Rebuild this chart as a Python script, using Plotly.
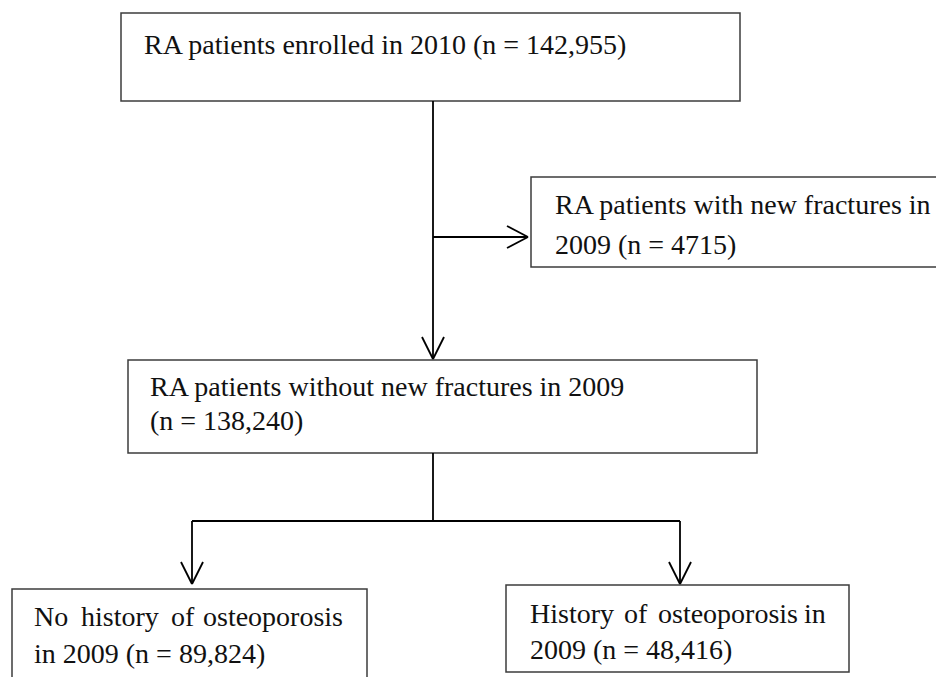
import plotly.graph_objects as go

# ---- data (flow counts) ----
enrolled_year = 2010
baseline_year = 2009
count_labels = ["142,955", "4715", "138,240", "89,824", "48,416"]
node_names = ["enrolled", "fracture", "no_fracture", "no_osteo", "osteo"]

# ---- text lines per box ----
box_lines = {
    "enrolled": [f"RA patients enrolled in {enrolled_year} (n = {count_labels[0]})"],
    "fracture": ["RA patients with new fractures in", f"{baseline_year} (n = {count_labels[1]})"],
    "no_fracture": [f"RA patients without new fractures in {baseline_year}", f"(n = {count_labels[2]})"],
}
no_osteo_words = ["No", "history", "of", "osteoporosis"]
no_osteo_line2 = f"in {baseline_year} (n = {count_labels[3]})"
osteo_words = ["History", "of", "osteoporosis", "in"]
osteo_line2 = f"{baseline_year} (n = {count_labels[4]})"

# ---- layout geometry (pixel space) ----
W, H = 936, 677
boxes = {
    "enrolled": (121, 13, 740, 101),
    "fracture": (531, 177, 960, 267),
    "no_fracture": (128, 360, 757, 453),
    "no_osteo": (12, 589, 367, 700),
    "osteo": (506, 585, 849, 672),
}
FONT = dict(family="Liberation Serif, Times New Roman, serif", size=28, color="#111111")
BOX_COLOR = "#3c3c3c"
LINE_COLOR = "#000000"

fig = go.Figure()
fig.add_trace(go.Scatter(x=[0, W], y=[0, H], mode="markers",
                         marker=dict(opacity=0), hoverinfo="skip", showlegend=False))

shapes = []
for name in node_names:
    x0, y0, x1, y1 = boxes[name]
    shapes.append(dict(type="rect", xref="x", yref="y", x0=x0, y0=y0, x1=x1, y1=y1,
                       line=dict(color=BOX_COLOR, width=1.5), fillcolor="rgba(0,0,0,0)"))

def seg(xa, ya, xb, yb):
    shapes.append(dict(type="line", xref="x", yref="y", x0=xa, y0=ya, x1=xb, y1=yb,
                       line=dict(color=LINE_COLOR, width=1.8)))

def arrow_down(x, tip):
    seg(x - 11, tip - 22, x, tip)
    seg(x + 11, tip - 22, x, tip)

def arrow_right(tip, y):
    seg(tip - 21, y - 11, tip, y)
    seg(tip - 21, y + 11, tip, y)

# main trunk
seg(433, 101, 433, 359)
arrow_down(433, 359)
# side branch to fracture box
seg(433, 237, 528, 237)
arrow_right(528, 237)
# from no_fracture down to split
seg(433, 453, 433, 521)
seg(192, 521, 680, 521)
seg(192, 521, 192, 584)
arrow_down(192, 584)
seg(680, 521, 680, 584)
arrow_down(680, 584)

annotations = []

def text(x, baseline, s, anchor="left"):
    annotations.append(dict(x=x, y=baseline - 9, xref="x", yref="y", text=s,
                            showarrow=False, xanchor=anchor, yanchor="middle", font=FONT))

text(142, 53, box_lines["enrolled"][0])
text(553, 213, box_lines["fracture"][0])
text(553, 253, box_lines["fracture"][1])
text(148, 395, box_lines["no_fracture"][0])
text(148, 429, box_lines["no_fracture"][1])

# justified lines in bottom boxes
for w, xpos in zip(no_osteo_words, [32, 79, 169, 345]):
    text(xpos, 625, w, "right" if w == no_osteo_words[-1] else "left")
text(32, 662, no_osteo_line2)
for w, xpos in zip(osteo_words, [528, 622, 656, 828]):
    text(xpos, 622, w, "right" if w == osteo_words[-1] else "left")
text(528, 658, osteo_line2)

fig.update_layout(
    width=W, height=H,
    margin=dict(l=0, r=0, t=0, b=0),
    paper_bgcolor="white", plot_bgcolor="white",
    xaxis=dict(range=[0, W], visible=False, fixedrange=True),
    yaxis=dict(range=[H, 0], visible=False, fixedrange=True),
    shapes=shapes, annotations=annotations, showlegend=False,
)
fig.write_html("out.html", config={"displayModeBar": False},
               post_script="document.body.style.margin='0px';document.body.style.overflow='hidden';")
